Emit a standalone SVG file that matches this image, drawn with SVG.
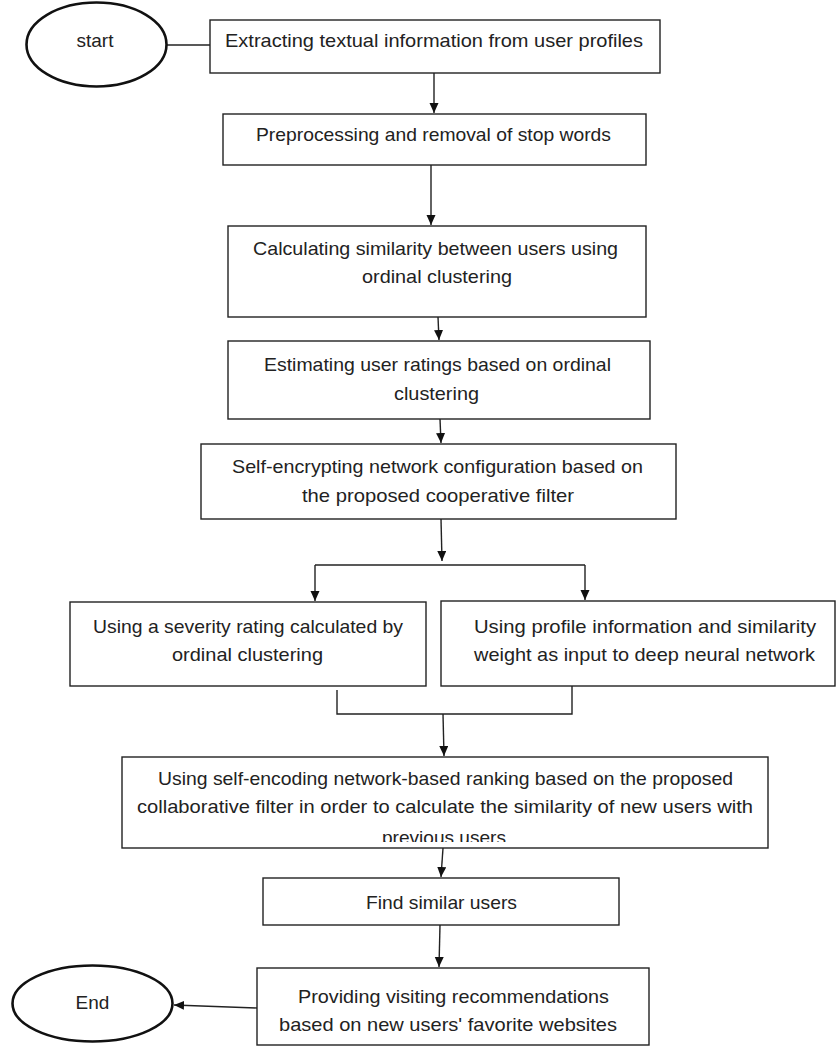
<svg xmlns="http://www.w3.org/2000/svg" width="836" height="1046" viewBox="0 0 836 1046">
<style>
.box{fill:#fff;stroke:#222;stroke-width:1.4}
.term{fill:#fff;stroke:#111;stroke-width:2.6}
.t{font-family:"Liberation Sans",Arial,sans-serif;font-size:19px;fill:#222;text-anchor:middle}
.c{fill:none;stroke:#222;stroke-width:1.4}
</style>
<defs>
<marker id="ah" markerUnits="userSpaceOnUse" markerWidth="11" markerHeight="10" refX="10" refY="4.5" orient="auto">
<path d="M0,0 L10,4.5 L0,9 z" fill="#111"/>
</marker>
<clipPath id="clip8"><rect x="122" y="757" width="646" height="85"/></clipPath>
</defs>
<rect width="836" height="1046" fill="#fff"/>

<g id="connectors">
<line class="c" x1="167" y1="45" x2="210" y2="45"/>
<line class="c" x1="434" y1="73" x2="434" y2="113" marker-end="url(#ah)"/>
<line class="c" x1="431" y1="165" x2="431" y2="225" marker-end="url(#ah)"/>
<line class="c" x1="438" y1="317" x2="439" y2="340" marker-end="url(#ah)"/>
<line class="c" x1="440" y1="419" x2="441" y2="443" marker-end="url(#ah)"/>
<line class="c" x1="441" y1="519" x2="442" y2="561" marker-end="url(#ah)"/>
<path class="c" d="M315,565 H585"/>
<line class="c" x1="315" y1="565" x2="315" y2="601" marker-end="url(#ah)"/>
<line class="c" x1="585" y1="565" x2="585" y2="600" marker-end="url(#ah)"/>
<path class="c" d="M337,690 V714 H572 V686"/>
<line class="c" x1="443" y1="714" x2="444" y2="756" marker-end="url(#ah)"/>
<line class="c" x1="443" y1="848" x2="441" y2="877" marker-end="url(#ah)"/>
<line class="c" x1="440" y1="925" x2="439" y2="967" marker-end="url(#ah)"/>
<line class="c" x1="257" y1="1008" x2="174" y2="1005" marker-end="url(#ah)"/>
</g>

<g id="start">
<ellipse class="term" cx="96.5" cy="44.5" rx="70" ry="42"/>
<text class="t" x="95" y="47">start</text>
</g>

<g id="n1">
<rect class="box" x="210" y="20" width="450" height="53"/>
<text class="t" x="434" y="47" textLength="418" lengthAdjust="spacingAndGlyphs">Extracting textual information from user profiles</text>
</g>

<g id="n2">
<rect class="box" x="223" y="114" width="423" height="51"/>
<text class="t" x="433.5" y="141" textLength="355" lengthAdjust="spacingAndGlyphs">Preprocessing and removal of stop words</text>
</g>

<g id="n3">
<rect class="box" x="228" y="226" width="418" height="91"/>
<text class="t" x="435.5" y="255" textLength="365" lengthAdjust="spacingAndGlyphs">Calculating similarity between users using</text>
<text class="t" x="437" y="283" textLength="150" lengthAdjust="spacingAndGlyphs">ordinal clustering</text>
</g>

<g id="n4">
<rect class="box" x="228" y="341" width="422" height="78"/>
<text class="t" x="437.5" y="371" textLength="347" lengthAdjust="spacingAndGlyphs">Estimating user ratings based on ordinal</text>
<text class="t" x="436.5" y="400" textLength="85" lengthAdjust="spacingAndGlyphs">clustering</text>
</g>

<g id="n5">
<rect class="box" x="201" y="444" width="475" height="75"/>
<text class="t" x="437.5" y="473" textLength="411" lengthAdjust="spacingAndGlyphs">Self-encrypting network configuration based on</text>
<text class="t" x="438" y="502" textLength="272" lengthAdjust="spacingAndGlyphs">the proposed cooperative filter</text>
</g>

<g id="n6">
<rect class="box" x="70" y="602" width="356" height="84"/>
<text class="t" x="248" y="633" textLength="310" lengthAdjust="spacingAndGlyphs">Using a severity rating calculated by</text>
<text class="t" x="247.5" y="661" textLength="151" lengthAdjust="spacingAndGlyphs">ordinal clustering</text>
</g>

<g id="n7">
<rect class="box" x="441" y="601" width="394" height="85"/>
<text class="t" x="645" y="633" textLength="342" lengthAdjust="spacingAndGlyphs">Using profile information and similarity</text>
<text class="t" x="644.5" y="661" textLength="341" lengthAdjust="spacingAndGlyphs">weight as input to deep neural network</text>
</g>

<g id="n8">
<rect class="box" x="122" y="757" width="646" height="91"/>
<text class="t" x="445.5" y="785" textLength="575" lengthAdjust="spacingAndGlyphs">Using self-encoding network-based ranking based on the proposed</text>
<text class="t" x="445" y="813" textLength="616" lengthAdjust="spacingAndGlyphs">collaborative filter in order to calculate the similarity of new users with</text>
<text class="t" x="444" y="844" textLength="124" lengthAdjust="spacingAndGlyphs" clip-path="url(#clip8)">previous users</text>
</g>

<g id="n9">
<rect class="box" x="263" y="878" width="356" height="47"/>
<text class="t" x="441.5" y="909" textLength="151" lengthAdjust="spacingAndGlyphs">Find similar users</text>
</g>

<g id="n10">
<rect class="box" x="257" y="968" width="392" height="77"/>
<text class="t" x="453.5" y="1003" textLength="311" lengthAdjust="spacingAndGlyphs">Providing visiting recommendations</text>
<text class="t" x="448" y="1031" textLength="338" lengthAdjust="spacingAndGlyphs">based on new users' favorite websites</text>
</g>

<g id="end">
<ellipse class="term" cx="92.5" cy="1003.5" rx="80" ry="38"/>
<text class="t" x="92.5" y="1009">End</text>
</g>
</svg>
